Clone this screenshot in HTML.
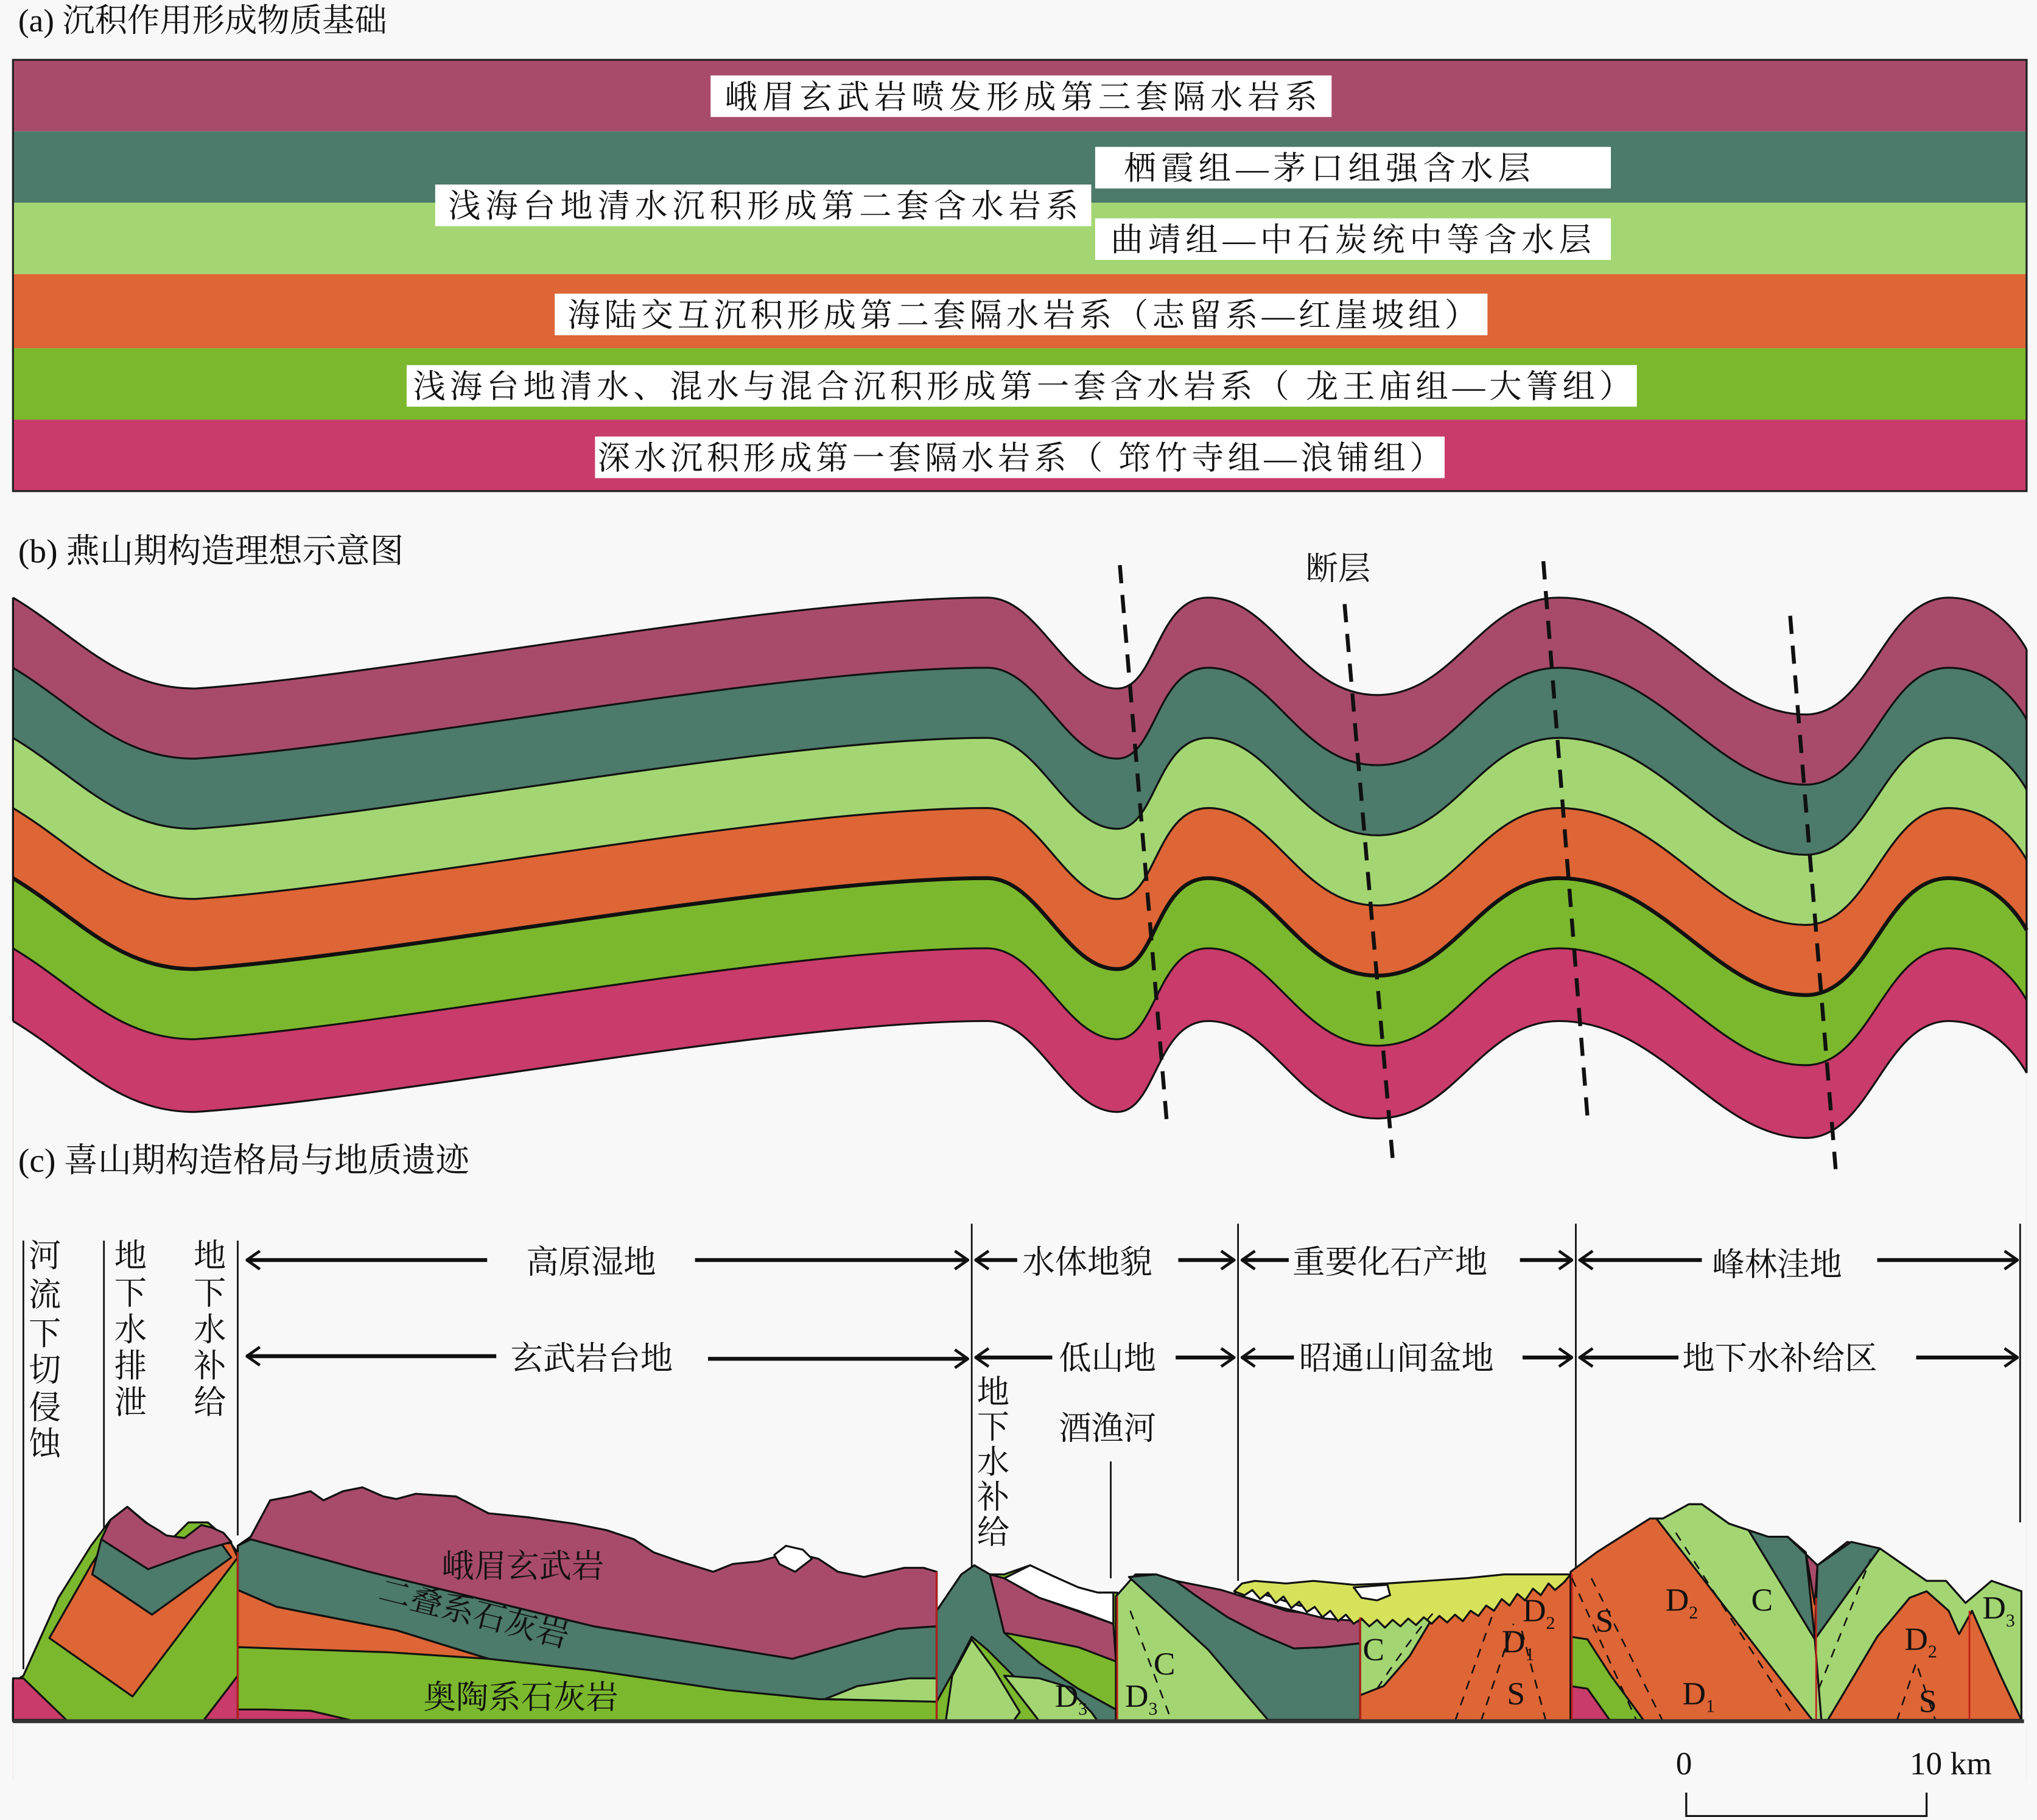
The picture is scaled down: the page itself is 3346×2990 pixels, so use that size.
<!DOCTYPE html>
<html><head><meta charset="utf-8"><style>
html,body{margin:0;padding:0;background:#f8f8f8;}
svg{display:block;}
text{font-family:"Liberation Serif","Noto Serif CJK SC","Noto Sans CJK SC",serif;fill:#111;}
</style></head><body>
<svg width="3346" height="2990" viewBox="0 0 1568 1401" xmlns="http://www.w3.org/2000/svg">
<defs>
<path id="bnd" d="M10,460 C60,490 90,530 150,530 C300,520 600,460 760,460 C800,460 820,530 860,530 C890,530 890,460 930,460 C980,460 1000,535 1060,535 C1120,535 1140,460 1200,460 C1280,460 1320,550 1390,550 C1440,550 1450,460 1500,460 C1540,460 1560,500 1560,500"/>
<path id="reg" d="M10,460 C60,490 90,530 150,530 C300,520 600,460 760,460 C800,460 820,530 860,530 C890,530 890,460 930,460 C980,460 1000,535 1060,535 C1120,535 1140,460 1200,460 C1280,460 1320,550 1390,550 C1440,550 1450,460 1500,460 C1540,460 1560,500 1560,500 L1560,1100 L10,1100 Z"/>
<marker id="ah" viewBox="0 0 12 16" refX="11" refY="8" markerWidth="12" markerHeight="16" markerUnits="userSpaceOnUse" orient="auto"><path d="M1,1 L11,8 L1,15" fill="none" stroke="#111" stroke-width="2.2"/></marker>
</defs>
<rect width="1568" height="1401" fill="#f8f8f8"/>

<!-- (a) -->
<text x="14" y="24" font-size="25">(a) 沉积作用形成物质基础</text>
<rect x="10" y="46" width="1550" height="55" fill="#A84B6A"/>
<rect x="10" y="101" width="1550" height="55" fill="#4C7A6B"/>
<rect x="10" y="156" width="1550" height="55" fill="#A3D672"/>
<rect x="10" y="211" width="1550" height="57" fill="#DE6535"/>
<rect x="10" y="268" width="1550" height="55" fill="#7BB82D"/>
<rect x="10" y="323" width="1550" height="55" fill="#C83B6A"/>
<rect x="10" y="46" width="1550" height="332" fill="none" stroke="#222" stroke-width="1.5"/>
<g font-size="25">
<rect x="547" y="58" width="478" height="32" fill="#fff"/><text x="558" y="83" textLength="456">峨眉玄武岩喷发形成第三套隔水岩系</text>
<rect x="843" y="113" width="397" height="32" fill="#fff"/><text x="865" y="138" textLength="313">栖霞组—茅口组强含水层</text>
<rect x="335" y="142" width="505" height="32" fill="#fff"/><text x="345" y="167" textLength="485">浅海台地清水沉积形成第二套含水岩系</text>
<rect x="843" y="168" width="397" height="32" fill="#fff"/><text x="855" y="193" textLength="370">曲靖组—中石炭统中等含水层</text>
<rect x="427" y="226" width="718" height="32" fill="#fff"/><text x="437" y="251" textLength="700">海陆交互沉积形成第二套隔水岩系（志留系—红崖坡组）</text>
<rect x="313" y="281" width="947" height="32" fill="#fff"/><text x="318" y="306" textLength="938">浅海台地清水、混水与混合沉积形成第一套含水岩系（ 龙王庙组—大箐组）</text>
<rect x="458" y="336" width="654" height="32" fill="#fff"/><text x="460" y="361" textLength="650">深水沉积形成第一套隔水岩系（ 筇竹寺组—浪铺组）</text>
</g>

<!-- (b) -->
<text x="14" y="433" font-size="26">(b) 燕山期构造理想示意图</text>
<use href="#reg" fill="#A84B6A"/>
<use href="#reg" transform="translate(0,54)" fill="#4C7A6B"/>
<use href="#reg" transform="translate(0,108)" fill="#A3D672"/>
<use href="#reg" transform="translate(0,162)" fill="#DE6535"/>
<use href="#reg" transform="translate(0,216)" fill="#7BB82D"/>
<use href="#reg" transform="translate(0,270)" fill="#C83B6A"/>
<use href="#reg" transform="translate(0,326)" fill="#f8f8f8"/>
<g fill="none" stroke="#111" stroke-width="1.5">
<use href="#bnd"/>
<use href="#bnd" transform="translate(0,54)"/>
<use href="#bnd" transform="translate(0,108)"/>
<use href="#bnd" transform="translate(0,162)"/>
<use href="#bnd" transform="translate(0,216)" stroke-width="3"/>
<use href="#bnd" transform="translate(0,270)"/>
<use href="#bnd" transform="translate(0,326)"/>
<path d="M10,460 V786 M1560,500 V826"/>
</g>
<g stroke="#111" stroke-width="3" stroke-dasharray="14,9">
<path d="M862,435 L898,862"/><path d="M1035,465 L1072,892"/><path d="M1188,432 L1222,860"/><path d="M1378,474 L1413,900"/>
</g>
<text x="1005" y="446" font-size="25">断层</text>

<!-- (c) -->
<text x="14" y="902" font-size="26">(c) 喜山期构造格局与地质遗迹</text>
<g stroke="#111" stroke-width="1.3">
<path d="M18,955 V1285 M80,955 V1180 M183,955 V1182 M748,942 V1212 M953,942 V1217 M1213,942 V1210 M1555,942 V1172 M855,1125 V1215"/>
</g>
<g font-size="25">
<text x="22" y="975">河</text><text x="22" y="1005">流</text><text x="22" y="1035">下</text><text x="22" y="1063">切</text><text x="22" y="1092">侵</text><text x="22" y="1120">蚀</text>
<text x="88" y="975">地</text><text x="88" y="1004">下</text><text x="88" y="1032">水</text><text x="88" y="1060">排</text><text x="88" y="1088">泄</text>
<text x="149" y="975">地</text><text x="149" y="1004">下</text><text x="149" y="1032">水</text><text x="149" y="1060">补</text><text x="149" y="1088">给</text>
<text x="752" y="1080">地</text><text x="752" y="1107">下</text><text x="752" y="1134">水</text><text x="752" y="1161">补</text><text x="752" y="1188">给</text>
<text x="815" y="1108">酒渔河</text>
<text x="405" y="980">高原湿地</text>
<text x="787" y="980">水体地貌</text>
<text x="995" y="980">重要化石产地</text>
<text x="1318" y="982">峰林洼地</text>
<text x="393" y="1054">玄武岩台地</text>
<text x="815" y="1054">低山地</text>
<text x="1000" y="1054">昭通山间盆地</text>
<text x="1295" y="1054">地下水补给区</text>
</g>
<g stroke="#111" stroke-width="3" fill="none" marker-end="url(#ah)">
<path d="M375,970 H190"/><path d="M535,970 H745"/>
<path d="M783,970 H751"/><path d="M907,970 H950"/>
<path d="M992,970 H956"/><path d="M1170,970 H1210"/>
<path d="M1310,970 H1216"/><path d="M1445,970 H1553"/>
<path d="M382,1044 H190"/><path d="M545,1046 H745"/>
<path d="M810,1045 H751"/><path d="M905,1045 H950"/>
<path d="M996,1045 H956"/><path d="M1172,1045 H1210"/>
<path d="M1292,1045 H1216"/><path d="M1475,1045 H1553"/>
</g>

<!-- cross-section -->
<g stroke="#111" stroke-width="1.5" stroke-linejoin="round">
<path d="M10,1325 L10,1295 L18,1290 L45,1230 L70,1190 L85,1170 L98,1160 L110,1170 L120,1178 L128,1188 L135,1182 L145,1172 L160,1172 L175,1185 L183,1195 L183,1325 Z" fill="#7BB82D"/>
<path d="M38,1261 L70,1205 L81,1188 L178,1188 L183,1199 L102,1306 Z" fill="#DE6535"/>
<path d="M71,1212 L78,1185 L168,1185 L178,1199 L117,1243 Z" fill="#4C7A6B"/>
<path d="M78,1185 L85,1170 L98,1160 L112,1172 L122,1178 L128,1182 L142,1184 L155,1174 L163,1176 L172,1180 L178,1187 L150,1195 L114,1208 Z" fill="#A84B6A"/>
<path d="M10,1292 L18,1292 L51,1324 L10,1324 Z" fill="#C83B6A"/>
<path d="M157,1324 L183,1290 L183,1324 Z" fill="#C83B6A"/>
<path d="M183,1325 L183,1190 L193,1183 L208,1155 L224,1152 L239,1148 L249,1155 L264,1148 L279,1145 L295,1152 L305,1154 L320,1150 L351,1152 L376,1165 L406,1168 L442,1173 L467,1178 L488,1185 L503,1195 L523,1202 L549,1210 L564,1204 L584,1202 L610,1195 L630,1200 L645,1210 L665,1214 L696,1207 L711,1207 L721,1210 L721,1325 Z" fill="#7BB82D"/>
<path d="M183,1190 L193,1183 L208,1155 L224,1152 L239,1148 L249,1155 L264,1148 L279,1145 L295,1152 L305,1154 L320,1150 L351,1152 L376,1165 L406,1168 L442,1173 L467,1178 L488,1185 L503,1195 L523,1202 L549,1210 L564,1204 L584,1202 L610,1195 L630,1200 L645,1210 L665,1214 L696,1207 L711,1207 L721,1210 L721,1252 L691,1254 L610,1277 L457,1252 L284,1210 L193,1185 Z" fill="#A84B6A"/>
<path d="M183,1224 L183,1190 L193,1185 L284,1210 L457,1252 L610,1277 L691,1254 L721,1252 L721,1310 L630,1308 L559,1301 L457,1286 L376,1277 L305,1255 L213,1237 Z" fill="#4C7A6B"/>
<path d="M183,1224 L213,1237 L305,1255 L376,1277 L300,1272 L183,1268 Z" fill="#DE6535"/>
<path d="M635,1308 L660,1298 L700,1292 L721,1292 L721,1310 Z" fill="#A3D672"/>
<path d="M183,1316 L203,1316 L239,1317 L269,1324 L183,1324 Z" fill="#C83B6A"/>
<path d="M596,1197 L605,1190 L618,1193 L625,1200 L612,1210 L600,1204 Z" fill="#fff"/>
<path d="M721,1325 L721,1240 L740,1212 L750,1205 L760,1212 L773,1212 L793,1205 L810,1213 L830,1222 L845,1226 L860,1226 L860,1325 Z" fill="#7BB82D"/>
<path d="M721,1310 L721,1240 L740,1212 L750,1205 L762,1212 L773,1257 L800,1280 L830,1300 L859,1316 L859,1325 L800,1325 L780,1290 L760,1270 L748,1260 L735,1285 Z" fill="#4C7A6B"/>
<path d="M733,1290 L748,1262 L765,1285 L785,1318 L780,1325 L728,1325 Z" fill="#A3D672"/>
<path d="M762,1212 L773,1215 L800,1230 L857,1250 L859,1279 L830,1268 L800,1262 L773,1257 Z" fill="#A84B6A"/>
<path d="M773,1215 L793,1205 L810,1213 L830,1222 L845,1226 L857,1226 L857,1250 L830,1240 L800,1230 Z" fill="#fff"/>
<path d="M773,1290 L800,1292 L820,1298 L840,1318 L845,1325 L800,1325 Z" fill="#A3D672"/>
<path d="M859,1325 L859,1229 L874,1212 L890,1212 L905,1217 L920,1220 L940,1224 L950,1227 L1047,1240 L1047,1325 Z" fill="#A3D672"/>
<path d="M869,1214 L890,1212 L905,1217 L920,1228 L945,1245 L970,1258 L996,1269 L1020,1268 L1047,1265 L1047,1324 L976,1324 L930,1270 Z" fill="#4C7A6B"/>
<path d="M905,1217 L920,1220 L940,1224 L950,1227 L990,1240 L1047,1247 L1047,1265 L1020,1268 L996,1269 L970,1258 L945,1245 L920,1228 Z" fill="#A84B6A"/>
<path d="M950,1227 L980,1236 L1020,1246 L1047,1248 L1047,1240 L1000,1236 L956,1222 Z" fill="#fff"/>
<path d="M1047,1325 L1047,1245 L1103,1245 L1150,1225 L1209,1212 L1209,1325 Z" fill="#DE6535"/>
<path d="M1047,1247 L1103,1245 L1085,1275 L1065,1298 L1047,1305 Z" fill="#A3D672"/>
<path d="M950,1225 L956,1219 L966,1217 L990,1219 L1011,1217 L1042,1220 L1067,1219 L1098,1217 L1128,1215 L1158,1212 L1189,1212 L1209,1212 L1204,1218 L1197,1224 L1192,1219 L1186,1228 L1180,1223 L1174,1232 L1168,1227 L1162,1236 L1156,1231 L1150,1240 L1144,1236 L1138,1244 L1132,1240 L1126,1248 L1120,1243 L1114,1249 L1108,1244 L1102,1250 L1096,1245 L1090,1251 L1084,1246 L1078,1252 L1072,1247 L1066,1253 L1060,1247 L1054,1252 L1048,1246 L1042,1250 L1036,1243 L1030,1248 L1024,1240 L1018,1245 L1012,1237 L1006,1241 L1000,1233 L994,1238 L988,1229 L982,1234 L976,1226 L970,1231 L964,1224 L958,1228 Z" fill="#D6E25A"/>
<path d="M1042,1222 L1048,1230 L1060,1232 L1070,1228 L1068,1220 Z" fill="#fff"/>
<path d="M1209,1325 L1209,1210 L1229,1195 L1270,1169 L1280,1169 L1300,1158 L1310,1158 L1331,1173 L1346,1178 L1361,1183 L1376,1183 L1399,1205 L1422,1187 L1447,1192 L1483,1217 L1498,1217 L1513,1234 L1533,1217 L1556,1225 L1556,1325 Z" fill="#DE6535"/>
<path d="M1275,1169 L1280,1169 L1300,1158 L1310,1158 L1331,1173 L1346,1178 L1397,1262 L1402,1324 L1395,1324 Z" fill="#A3D672"/>
<path d="M1346,1178 L1361,1183 L1376,1183 L1390,1195 L1397,1262 Z" fill="#4C7A6B"/>
<path d="M1376,1183 L1399,1205 L1397,1235 L1390,1195 Z" fill="#A84B6A"/>
<path d="M1399,1205 L1425,1187 L1447,1192 L1397,1262 Z" fill="#4C7A6B"/>
<path d="M1447,1192 L1483,1217 L1498,1217 L1513,1234 L1533,1217 L1556,1225 L1556,1324 L1402,1324 L1397,1262 Z" fill="#A3D672"/>
<path d="M1407,1324 L1445,1260 L1470,1230 L1483,1225 L1500,1240 L1508,1258 L1518,1240 L1540,1290 L1556,1324 Z" fill="#DE6535"/>
<path d="M1209,1260 L1222,1262 L1240,1290 L1265,1324 L1209,1324 Z" fill="#7BB82D"/>
<path d="M1209,1298 L1222,1300 L1239,1324 L1209,1324 Z" fill="#C83B6A"/>
</g>
<g stroke="#c0201a" stroke-width="1.3">
<path d="M183,1195 V1325 M721,1210 V1325 M860,1229 V1325 M1047,1245 V1325 M1210,1212 V1325 M1398,1230 V1325 M1516,1240 V1325"/>
</g>
<g stroke="#111" stroke-width="1.2" stroke-dasharray="7,6" fill="none">
<path d="M1060,1300 C1080,1270 1095,1250 1105,1240"/>
<path d="M1120,1325 L1150,1240 M1140,1325 L1165,1250 M1190,1325 L1170,1250"/>
<path d="M1210,1215 L1260,1325 M1225,1215 L1280,1325"/>
<path d="M1290,1180 L1380,1320 M1400,1300 L1440,1200"/>
<path d="M1460,1325 L1475,1280 L1490,1325"/>
<path d="M870,1240 L900,1320"/>
</g>
<path d="M10,1325 H1558" stroke="#333" stroke-width="3"/>
<g font-size="25">
<text x="340" y="1214">峨眉玄武岩</text>
<text x="290" y="1232" transform="rotate(14 290 1232)">二叠系石灰岩</text>
<text x="326" y="1315">奥陶系石灰岩</text>
<text x="888" y="1289">C</text>
<text x="812" y="1314">D<tspan font-size="14" dy="6">3</tspan></text>
<text x="866" y="1314">D<tspan font-size="14" dy="6">3</tspan></text>
<text x="1049" y="1278">C</text>
<text x="1172" y="1248">D<tspan font-size="14" dy="6">2</tspan></text>
<text x="1156" y="1272">D<tspan font-size="14" dy="6">1</tspan></text>
<text x="1160" y="1312">S</text>
<text x="1228" y="1256">S</text>
<text x="1282" y="1240">D<tspan font-size="14" dy="6">2</tspan></text>
<text x="1348" y="1240">C</text>
<text x="1295" y="1312">D<tspan font-size="14" dy="6">1</tspan></text>
<text x="1466" y="1270">D<tspan font-size="14" dy="6">2</tspan></text>
<text x="1477" y="1318">S</text>
<text x="1526" y="1246">D<tspan font-size="14" dy="6">3</tspan></text>
<text x="1290" y="1366">0</text>
<text x="1470" y="1366">10 km</text>
</g>
<path d="M1298,1380 V1398 H1483 V1380" fill="none" stroke="#111" stroke-width="1.5"/>
</svg>
</body></html>
